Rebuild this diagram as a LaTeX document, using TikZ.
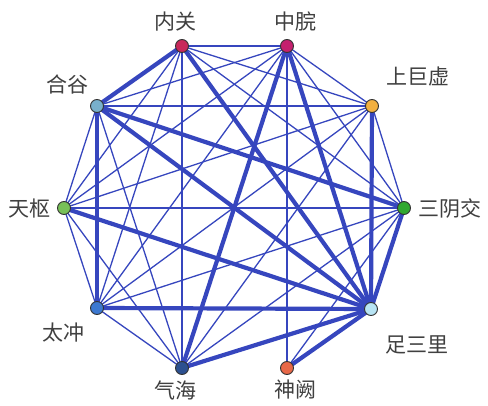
\documentclass[tikz,border=0pt]{standalone}
\usepackage{fontspec}
\newfontfamily\cjk{Noto Sans CJK SC}
\definecolor{edgeblue}{RGB}{54,70,190}
\definecolor{cNeiguan}{RGB}{200,40,90}
\definecolor{cZhongwan}{RGB}{196,32,110}
\definecolor{cShangjuxu}{RGB}{242,176,64}
\definecolor{cSanyinjiao}{RGB}{48,168,48}
\definecolor{cZusanli}{RGB}{184,228,244}
\definecolor{cShenque}{RGB}{232,104,72}
\definecolor{cQihai}{RGB}{44,80,144}
\definecolor{cTaichong}{RGB}{60,120,208}
\definecolor{cTianshu}{RGB}{120,192,88}
\definecolor{cHegu}{RGB}{120,176,204}
\definecolor{labelgray}{RGB}{64,64,64}
\begin{document}
\begin{tikzpicture}[x=1pt,y=1pt,
  pt/.style={circle,draw=black!80,line width=0.9pt,minimum size=13pt,inner sep=0pt},
  lab/.style={font=\cjk\fontsize{21}{21}\selectfont,text=labelgray,inner sep=0pt},
  thin/.style={draw=edgeblue,line width=1.3pt},
  thick/.style={draw=edgeblue,line width=4.2pt}]
\useasboundingbox (0,0) rectangle (488,-406);
\fill[white] (0,0) rectangle (488,-406);
% points
\coordinate (N) at (182,-46);
\coordinate (Z) at (287,-46);
\coordinate (S) at (372,-106);
\coordinate (Y) at (404,-208);
\coordinate (L) at (371,-309);
\coordinate (Q) at (287,-368);
\coordinate (H) at (182,-368);
\coordinate (T) at (97,-308);
\coordinate (W) at (64,-208);
\coordinate (G) at (97,-106);
% thin edges
\foreach \a/\b in {N/Z,N/S,N/Y,N/H,N/T,N/W,
  Z/S,Z/Y,Z/Q,Z/T,Z/W,Z/G,
  S/Y,S/H,S/T,S/W,S/G,
  Y/H,Y/T,Y/W,Y/Q,
  H/T,H/W,H/G,
  T/W,W/G}
  \draw[thin] (\a) -- (\b);
% thick edges
\foreach \a/\b in {N/G,N/L,Z/H,Z/L,S/L,Y/L,Q/L,H/L,T/L,W/L,G/L,G/Y,G/T}
  \draw[thick] (\a) -- (\b);
% nodes
\node[pt,fill=cNeiguan] (nN) at (N) {};
\node[pt,fill=cZhongwan] (nZ) at (Z) {};
\node[pt,fill=cShangjuxu] (nS) at (S) {};
\node[pt,fill=cSanyinjiao] (nY) at (Y) {};
\node[pt,fill=cZusanli] (nL) at (L) {};
\node[pt,fill=cShenque] (nQ) at (Q) {};
\node[pt,fill=cQihai] (nH) at (H) {};
\node[pt,fill=cTaichong] (nT) at (T) {};
\node[pt,fill=cTianshu] (nW) at (W) {};
\node[pt,fill=cHegu] (nG) at (G) {};
% labels
\node[lab] (tN) at (175,-22) {内关};
\node[lab] (tZ) at (295,-22) {中脘};
\node[lab] (tS) at (418,-77) {上巨虚};
\node[lab] (tY) at (450,-209) {三阴交};
\node[lab] (tL) at (417,-345) {足三里};
\node[lab] (tQ) at (295,-390) {神阙};
\node[lab] (tH) at (175,-390) {气海};
\node[lab] (tT) at (63,-333) {太冲};
\node[lab] (tW) at (30,-209) {天枢};
\node[lab] (tG) at (67,-85) {合谷};
\end{tikzpicture}
\end{document}
